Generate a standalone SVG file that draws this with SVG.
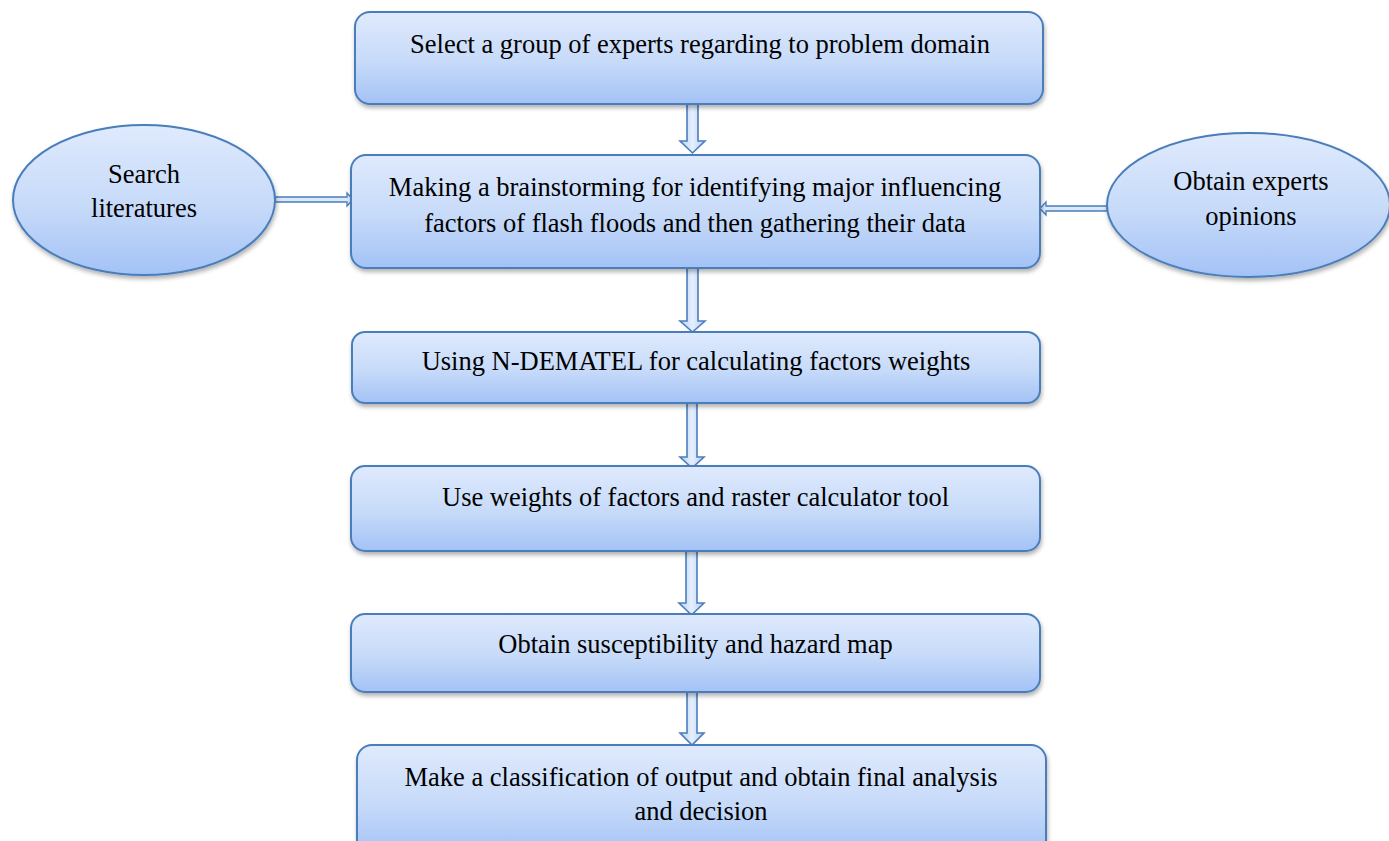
<svg xmlns="http://www.w3.org/2000/svg" width="1389" height="841" viewBox="0 0 1389 841">
<defs>
<linearGradient id="g" x1="0" y1="0" x2="0" y2="1">
<stop offset="0" stop-color="#dfeafd"/>
<stop offset="0.55" stop-color="#c6daf9"/>
<stop offset="1" stop-color="#a3c2f6"/>
</linearGradient>
<linearGradient id="ga" x1="0" y1="0" x2="1" y2="0">
<stop offset="0" stop-color="#b5cff7"/>
<stop offset="0.5" stop-color="#e6effd"/>
<stop offset="1" stop-color="#b5cff7"/>
</linearGradient>
<filter id="sh" x="-5%" y="-10%" width="110%" height="130%">
<feDropShadow dx="1" dy="3" stdDeviation="2" flood-color="#000" flood-opacity="0.3"/>
</filter>
</defs>
<style>
.box{fill:url(#g);stroke:#4a7ebb;stroke-width:2;filter:url(#sh)}
.arr{fill:url(#ga);stroke:#4a7ebb;stroke-width:1.6;stroke-linejoin:miter}
.harr{fill:#dbe7fb;stroke:#4a7ebb;stroke-width:1.3}
text{font-family:"Liberation Serif","Times New Roman",serif;font-size:26.5px;fill:#000;text-anchor:middle}
</style>
<rect width="1389" height="841" fill="#ffffff"/>
<g id="connectors">
<path class="arr" d="M687,104 H698 V141 H705 L692.5,153 L680,141 H687 Z"/>
<path class="arr" d="M687,268 H698 V321 H705 L692.5,332 L680,321 H687 Z"/>
<path class="arr" d="M687,403 H697 V457 H704 L692,468 L680,457 H687 Z"/>
<path class="arr" d="M686,551 H697 V603 H704 L691.5,615 L679,603 H686 Z"/>
<path class="arr" d="M687,681 H697 V733 H704 L692,745 L680,733 H687 Z"/>
<path class="harr" d="M275,197 H347 V193 L353,199.5 L347,206 V202 H275 Z"/>
<path class="harr" d="M1107,206 H1046 V202 L1040,208.5 L1046,215 V211 H1107 Z"/>
</g>
<g id="n1">
<rect class="box" x="355" y="12" width="688" height="92" rx="15"/>
<text x="700" y="53">Select a group of experts regarding to problem domain</text>
</g>
<g id="n2">
<rect class="box" x="351" y="155" width="689" height="113" rx="15"/>
<text x="695" y="196">Making a brainstorming for identifying major influencing</text>
<text x="695" y="232">factors of flash floods and then gathering their data</text>
</g>
<g id="e1">
<ellipse class="box" cx="144" cy="200" rx="131" ry="75"/>
<text x="144" y="183">Search</text>
<text x="144" y="217">literatures</text>
</g>
<g id="e2">
<ellipse class="box" cx="1248.5" cy="205" rx="141.5" ry="72"/>
<text x="1251" y="190">Obtain experts</text>
<text x="1251" y="225">opinions</text>
</g>
<g id="n3">
<rect class="box" x="352" y="332" width="688" height="71" rx="13"/>
<text x="696" y="370">Using N-DEMATEL for calculating factors weights</text>
</g>
<g id="n4">
<rect class="box" x="351" y="466" width="689" height="85" rx="14"/>
<text x="695.5" y="506">Use weights of factors and raster calculator tool</text>
</g>
<g id="n5">
<rect class="box" x="351" y="614" width="689" height="78" rx="14"/>
<text x="695.5" y="653">Obtain susceptibility and hazard map</text>
</g>
<g id="n6">
<rect class="box" x="357" y="745" width="689" height="110" rx="15"/>
<text x="701" y="786">Make a classification of output and obtain final analysis</text>
<text x="701" y="820">and decision</text>
</g>
</svg>
